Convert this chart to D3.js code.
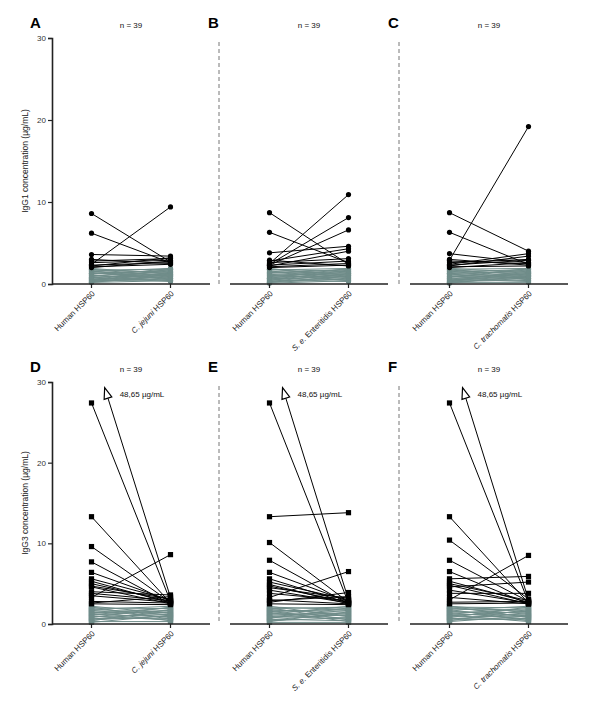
<!DOCTYPE html>
<html><head><meta charset="utf-8">
<script src="https://cdn.jsdelivr.net/npm/d3@7"></script>
<style>body{margin:0;background:#fff}svg{display:block}text{font-family:"Liberation Sans",Arial,sans-serif}</style>
</head><body><svg id="c" width="600" height="705"></svg>
<script>
// ---------- data ----------
const panelLetters = ["A","B","C","D","E","F"];
const nLabel = "n = 39";
const yTicks = [0,10,20,30];
const yTitles = ["IgG1 concentration (µg/mL)", "IgG3 concentration (µg/mL)"];
const xCats = [
  [{t:"Human HSP60"}],
  [{t:"C. jejuni",i:true},{t:" HSP60"}],
  [{t:"S. e.",i:true},{t:" Enteritidis HSP60"}],
  [{t:"C. trachomatis",i:true},{t:" HSP60"}]
];
const cutoffs = [2.0, 2.3];          // grey (below) / black (above) per row
const outlierValue = 48.65;          // off-scale human value (rows D-F)
const outlierDrawnValue = 34.5;      // value the clipped line is aimed at
const outlierClip = 29.3;

// Panel A: Human vs C. jejuni (IgG1)
const humanA = [8.6,6.2,2.4,3.6,3.0,2.8,2.6,2.3,2.2,2.1,2.0,
  1.9,1.8,1.7,1.7,1.6,1.5,1.5,1.4,1.3,1.3,1.2,1.1,1.0,1.0,0.9,0.8,0.8,0.7,0.6,0.6,0.5,0.5,0.4,0.4,0.3,0.3,0.2,0.2];
const pathA = [2.7,2.6,9.4,3.4,2.5,3.1,2.9,2.6,3.2,2.4,2.8,
  1.2,0.9,1.8,1.4,0.5,1.9,1.1,0.7,1.6,1.0,1.7,0.4,1.5,0.8,1.9,0.3,1.3,1.6,0.6,1.2,1.8,0.9,1.4,0.5,1.1,0.7,1.0,0.4];
// Panel B: Human vs S. e. Enteritidis (IgG1)
const humanB = [8.7,6.3,3.8,2.5,2.4,2.3,2.8,2.2,2.6,2.1,2.0,2.9,2.3,
  1.9,1.8,1.8,1.7,1.6,1.5,1.4,1.4,1.3,1.2,1.1,1.0,1.0,0.9,0.8,0.7,0.7,0.6,0.5,0.5,0.4,0.3,0.3,0.2,0.2,0.1];
const pathB = [2.4,2.6,4.6,10.9,8.1,6.6,4.3,4.0,3.1,2.5,2.3,2.2,2.8,
  0.8,1.5,1.1,1.9,0.6,1.3,1.7,0.9,1.8,0.4,1.2,1.6,0.7,1.4,1.0,1.9,0.5,1.5,1.1,0.3,1.7,0.8,1.3,0.6,1.0,0.4];
// Panel C: Human vs C. trachomatis (IgG1)
const humanC = [8.7,6.3,3.7,2.9,2.6,2.4,2.2,2.8,2.3,2.1,3.0,2.0,
  1.9,1.85,1.8,1.7,1.6,1.6,1.5,1.4,1.3,1.3,1.2,1.1,1.0,0.9,0.9,0.8,0.7,0.6,0.6,0.5,0.4,0.4,0.3,0.3,0.2,0.2,0.1];
const pathC = [4.0,2.4,2.6,19.2,3.0,3.7,3.4,2.5,2.9,2.2,2.3,2.6,
  1.4,0.7,1.9,1.1,1.6,0.5,1.3,1.8,0.9,1.5,0.6,1.7,1.2,0.4,1.0,1.9,0.8,1.4,0.3,1.1,1.6,0.7,1.3,0.5,0.9,0.2,1.0];
// Panel D: Human vs C. jejuni (IgG3)
const humanD = [48.65,27.4,13.3,9.6,7.7,6.4,5.6,5.3,5.0,4.7,4.6,4.0,3.8,3.5,3.3,2.8,2.6,2.5,
  2.2,2.1,2.0,1.9,1.8,1.7,1.6,1.5,1.4,1.3,1.2,1.1,1.0,0.9,0.8,0.7,0.6,0.5,0.4,0.3,0.2];
const pathD = [3.3,2.8,2.6,2.7,2.5,2.9,3.0,2.6,2.8,3.1,2.5,3.6,2.9,2.7,8.6,2.6,3.4,2.4,
  1.3,0.6,1.9,1.1,2.2,0.8,1.6,0.4,1.4,2.0,0.9,1.7,0.5,1.2,2.1,0.7,1.5,1.0,1.8,0.3,1.1];
// Panel E: Human vs S. e. Enteritidis (IgG3)
const humanE = [48.65,27.4,13.3,10.1,7.9,6.4,5.6,5.2,4.9,4.7,4.5,4.2,3.8,3.3,3.0,2.9,2.7,2.5,
  2.2,2.1,2.0,1.9,1.8,1.7,1.6,1.5,1.4,1.3,1.2,1.1,1.0,0.9,0.8,0.7,0.6,0.5,0.4,0.3,0.2];
const pathE = [3.0,2.6,13.8,2.7,2.5,2.8,2.6,3.0,2.5,2.7,3.2,2.6,2.9,6.5,2.5,3.4,3.9,2.4,
  0.9,1.8,0.5,2.1,1.2,1.6,0.3,1.9,1.0,0.7,2.2,1.4,0.6,1.7,1.1,2.0,0.4,1.3,0.8,1.5,0.2];
// Panel F: Human vs C. trachomatis (IgG3)
const humanF = [48.65,27.4,13.3,10.4,7.9,6.5,5.6,5.3,5.0,4.8,4.6,4.2,3.8,3.3,3.0,2.7,2.5,
  2.2,2.2,2.1,2.0,1.9,1.8,1.7,1.6,1.5,1.4,1.3,1.2,1.1,1.0,0.9,0.8,0.7,0.6,0.5,0.4,0.3];
const pathF = [3.0,2.7,2.6,3.1,2.8,2.5,5.9,2.7,2.9,2.5,5.2,2.6,3.8,2.5,8.5,2.8,2.6,
  1.5,0.8,2.0,1.2,1.7,0.4,2.2,1.0,1.4,0.6,1.9,1.1,0.3,1.6,0.9,2.1,0.5,1.3,0.7,1.8,1.0];

const humans = [humanA,humanB,humanC,humanD,humanE,humanF];
const paths = [pathA,pathB,pathC,pathD,pathE,pathF];
const pathCat = [1,2,3,1,2,3];

// ---------- layout ----------
const svg = d3.select("#c");
const colX = [52, 230, 410], colW = 158;
const rowY = [[284, 38], [624, 382]];
const GREY = "#6f8c89";
const AX = "#222";

for (let p = 0; p < 6; p++) {
  const col = p % 3, row = Math.floor(p / 3);
  const x0 = colX[col], x1 = x0 + colW;
  const [yb, yt] = rowY[row];
  const y = d3.scaleLinear().domain([0,30]).range([yb, yt]);
  const x = d3.scalePoint().domain([0,1]).range([x0, x1]).padding(0.5);
  const g = svg.append("g");
  const H = humans[p], P = paths[p];
  const cut = cutoffs[row];
  const square = row === 1;

  if (col > 0) {
    g.append("line").attr("x1", x0 - 11).attr("x2", x0 - 11).attr("y1", yt + 4).attr("y2", yb)
      .attr("stroke", "#777").attr("stroke-width", 1).attr("stroke-dasharray", "4,3");
  }

  const pairs = H.map((h, i) => ({h, v: P[i], grey: Math.max(h, P[i]) < cut}));
  const order = pairs.filter(d => d.grey).concat(pairs.filter(d => !d.grey));

  function drawMarker(cx, cy, c) {
    if (square) g.append("rect").attr("x", cx - 2.6).attr("y", cy - 2.6).attr("width", 5.2).attr("height", 5.2).attr("fill", c);
    else g.append("circle").attr("cx", cx).attr("cy", cy).attr("r", 2.6).attr("fill", c);
  }

  order.forEach(d => {
    const c = d.grey ? GREY : "#000";
    const xa = x(0), xb = x(1);
    if (d.h > 30) {
      const xR = xb, yR = y(d.v), xL = xa, yL = y(outlierDrawnValue);
      const yTip = y(outlierClip);
      const t = (yR - yTip) / (yR - yL);
      const xTip = xR + t * (xL - xR);
      const len = Math.hypot(xTip - xR, yTip - yR);
      const ux = (xTip - xR) / len, uy = (yTip - yR) / len;
      const al = 11, aw = 4;
      const bx = xTip - ux * al, by = yTip - uy * al;
      g.append("line").attr("x1", xR).attr("y1", yR).attr("x2", bx).attr("y2", by)
        .attr("stroke", "#000").attr("stroke-width", 1);
      g.append("path")
        .attr("d", `M${xTip},${yTip}L${bx - uy*aw},${by + ux*aw}L${bx + uy*aw},${by - ux*aw}Z`)
        .attr("fill", "#fff").attr("stroke", "#000").attr("stroke-width", 1.2);
      g.append("text").attr("x", xTip + 15).attr("y", yTip + 9)
        .attr("font-size", 8).attr("fill", "#111")
        .text(String(outlierValue).replace(".", ",") + " µg/mL");
      drawMarker(xR, yR, c);
      return;
    }
    g.append("line").attr("x1", xa).attr("y1", y(d.h)).attr("x2", xb).attr("y2", y(d.v))
      .attr("stroke", c).attr("stroke-width", 1);
    drawMarker(xa, y(d.h), c);
    drawMarker(xb, y(d.v), c);
  });

  g.append("line").attr("x1", x0).attr("x2", x1).attr("y1", yb).attr("y2", yb)
    .attr("stroke", AX).attr("stroke-width", 1.6);
  [0,1].forEach(k => {
    g.append("line").attr("x1", x(k)).attr("x2", x(k)).attr("y1", yb).attr("y2", yb + 4)
      .attr("stroke", AX).attr("stroke-width", 1.2);
    const parts = xCats[k === 0 ? 0 : pathCat[p]];
    const t = g.append("text").attr("transform", `translate(${x(k) + 2},${yb + 8}) rotate(-45)`)
      .attr("text-anchor", "end").attr("font-size", 8).attr("fill", "#222").attr("dy", "0.35em");
    parts.forEach(pt => t.append("tspan").attr("font-style", pt.i ? "italic" : null).text(pt.t));
  });

  if (col === 0) {
    const ax = g.append("g").attr("transform", `translate(${x0},0)`)
      .call(d3.axisLeft(y).tickValues(yTicks).tickSize(4).tickPadding(2).tickFormat(d3.format("d")));
    ax.select(".domain").attr("stroke", AX).attr("stroke-width", 1.6);
    ax.selectAll(".tick line").attr("stroke", AX).attr("stroke-width", 1.2);
    ax.selectAll(".tick text").attr("font-size", 8).attr("fill", "#333")
      .attr("font-family", '"Liberation Sans",Arial,sans-serif');
    g.append("text").attr("transform", `translate(${x0 - 24},${(yb + yt) / 2}) rotate(-90)`)
      .attr("text-anchor", "middle").attr("font-size", 8.5).attr("fill", "#222").text(yTitles[row]);
  }

  g.append("text").attr("x", x0 - 22).attr("y", yt - 10)
    .attr("font-size", 15).attr("font-weight", "bold").attr("fill", "#000").text(panelLetters[p]);
  g.append("text").attr("x", (x(0) + x(1)) / 2).attr("y", yt - 10)
    .attr("text-anchor", "middle").attr("font-size", 8).attr("fill", "#111").text(nLabel);
}
</script></body></html>
